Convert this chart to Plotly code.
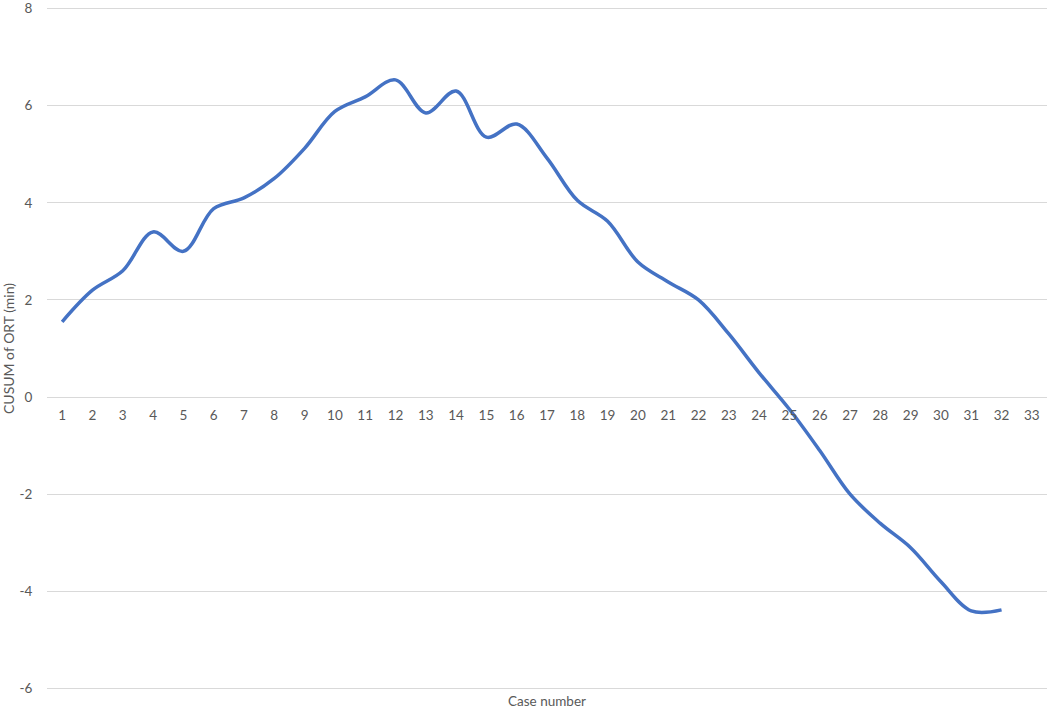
import plotly.graph_objects as go

cases = list(range(1, 33))
cusum = [1.55, 2.2, 2.6, 3.4, 3.0, 3.88, 4.1, 4.5, 5.12, 5.88, 6.18, 6.53, 5.85, 6.3,
         5.35, 5.62, 4.92, 4.05, 3.62, 2.78, 2.37, 2.0, 1.3, 0.5, -0.25, -1.1,
         -2.0, -2.6, -3.1, -3.8, -4.4, -4.38]
x_ticks = list(range(1, 34))
y_ticks = [-6, -4, -2, 0, 2, 4, 6, 8]

FONT = "Lato, Open Sans, sans-serif"
GREY = "#595959"
Y_LO, Y_HI = -6.03, 8.03

fig = go.Figure()
fig.add_trace(go.Scatter(
    x=cases, y=cusum, mode="lines",
    line=dict(color="#4472C4", width=3.5, shape="spline", smoothing=1.0),
    showlegend=False, hoverinfo="x+y",
))

fig.update_layout(
    width=1052, height=710,
    margin=dict(l=47, r=5, t=7, b=20),
    paper_bgcolor="white", plot_bgcolor="white",
    font=dict(family=FONT, color=GREY, size=13),
    xaxis=dict(
        range=[0.5, 33.5], tickmode="array", tickvals=x_ticks,
        ticktext=[str(v) for v in x_ticks],
        showgrid=False, zeroline=False, showline=False,
        anchor="free", position=(0 - Y_LO) / (Y_HI - Y_LO),
        ticks="outside", ticklen=6, tickcolor="rgba(0,0,0,0)",
        tickfont=dict(size=13.5, color=GREY), fixedrange=True,
    ),
    yaxis=dict(
        range=[Y_LO, Y_HI], tickmode="array", tickvals=y_ticks,
        ticktext=[str(v) for v in y_ticks],
        showgrid=True, gridcolor="#D9D9D9", gridwidth=1,
        zeroline=False, showline=False,
        ticks="outside", ticklen=11, tickcolor="rgba(0,0,0,0)",
        tickfont=dict(size=13.5, color=GREY),
        title=dict(text="CUSUM of ORT (min)", font=dict(size=14, color=GREY), standoff=4),
        automargin=False,
    ),
    annotations=[dict(
        text="Case number", xref="paper", yref="paper", x=0.5, y=0,
        xanchor="center", yanchor="top", yshift=-1, showarrow=False,
        font=dict(size=13.5, color=GREY),
    )],
)

fig.write_html("out.html", config={"displayModeBar": False},
               post_script="document.body.style.margin='0';document.body.style.overflow='hidden';")
